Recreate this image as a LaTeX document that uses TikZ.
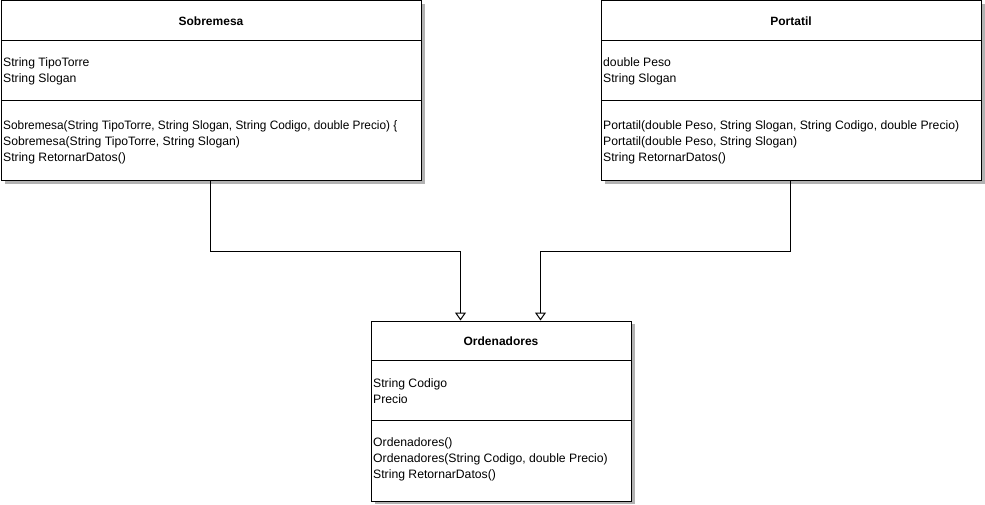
\documentclass[tikz,border=0pt]{standalone}
\usepackage{fontspec}
\setmainfont{Liberation Sans}
\usetikzlibrary{arrows.meta,shadows}
\begin{document}
\begin{tikzpicture}[x=1pt,y=-1pt,
  umlbox/.style={draw=black,fill=white,line width=1pt,minimum width=#1,minimum height=180pt,
    anchor=north west,inner sep=0pt,
    drop shadow={shadow xshift=3pt,shadow yshift=-3pt,fill=black!30,opacity=1}},
  title/.style={font=\fontsize{12}{16}\selectfont\bfseries,anchor=center},
  body/.style={font=\fontsize{12.2}{16}\selectfont,align=left,anchor=west,inner sep=0pt},
  sep/.style={draw=black,line width=1pt},
  inh/.style={draw=black,line width=1pt,-{Triangle[open,width=11pt,length=8pt]}}]
\useasboundingbox (0,0) rectangle (985,505);

% Sobremesa
\node[umlbox=420pt] (sob) at (1,0.5) {};
\draw[sep] ([yshift=-40pt]sob.north west) -- ([yshift=-40pt]sob.north east);
\draw[sep] ([yshift=-100pt]sob.north west) -- ([yshift=-100pt]sob.north east);
\node[title] (sobt) at (211,21) {Sobremesa};
\node[body] (soba) at (3,71) {String TipoTorre\\String Slogan};
\node[body] (sobm) at (3,142) {\scalebox{0.97}[1]{Sobremesa(String TipoTorre, String Slogan, String Codigo, double Precio) \{}\\Sobremesa(String TipoTorre, String Slogan)\\String RetornarDatos()};

% Portatil
\node[umlbox=380pt] (por) at (601,0.5) {};
\draw[sep] ([yshift=-40pt]por.north west) -- ([yshift=-40pt]por.north east);
\draw[sep] ([yshift=-100pt]por.north west) -- ([yshift=-100pt]por.north east);
\node[title] (port) at (791,21) {Portatil};
\node[body] (pora) at (603,71) {double Peso\\String Slogan};
\node[body] (porm) at (603,142) {Portatil(double Peso, String Slogan, String Codigo, double Precio)\\Portatil(double Peso, String Slogan)\\String RetornarDatos()};

% Ordenadores
\node[umlbox=260pt] (ord) at (371,320.5) {};
\draw[sep] ([yshift=-40pt]ord.north west) -- ([yshift=-40pt]ord.north east);
\draw[sep] ([yshift=-100pt]ord.north west) -- ([yshift=-100pt]ord.north east);
\node[title] (ordt) at (501,341) {Ordenadores};
\node[body] (orda) at (373,391) {String Codigo\\Precio};
\node[body] (ordm) at (373,459) {Ordenadores()\\Ordenadores(String Codigo, double Precio)\\String RetornarDatos()};

% Connectors
\draw[inh] ([xshift=-1pt]sob.south) -- ++(0,70) -| ([xshift=-41pt]ord.north);
\draw[inh] ([xshift=-1pt]por.south) -- ++(0,70) -| ([xshift=39pt]ord.north);
\end{tikzpicture}
\end{document}
